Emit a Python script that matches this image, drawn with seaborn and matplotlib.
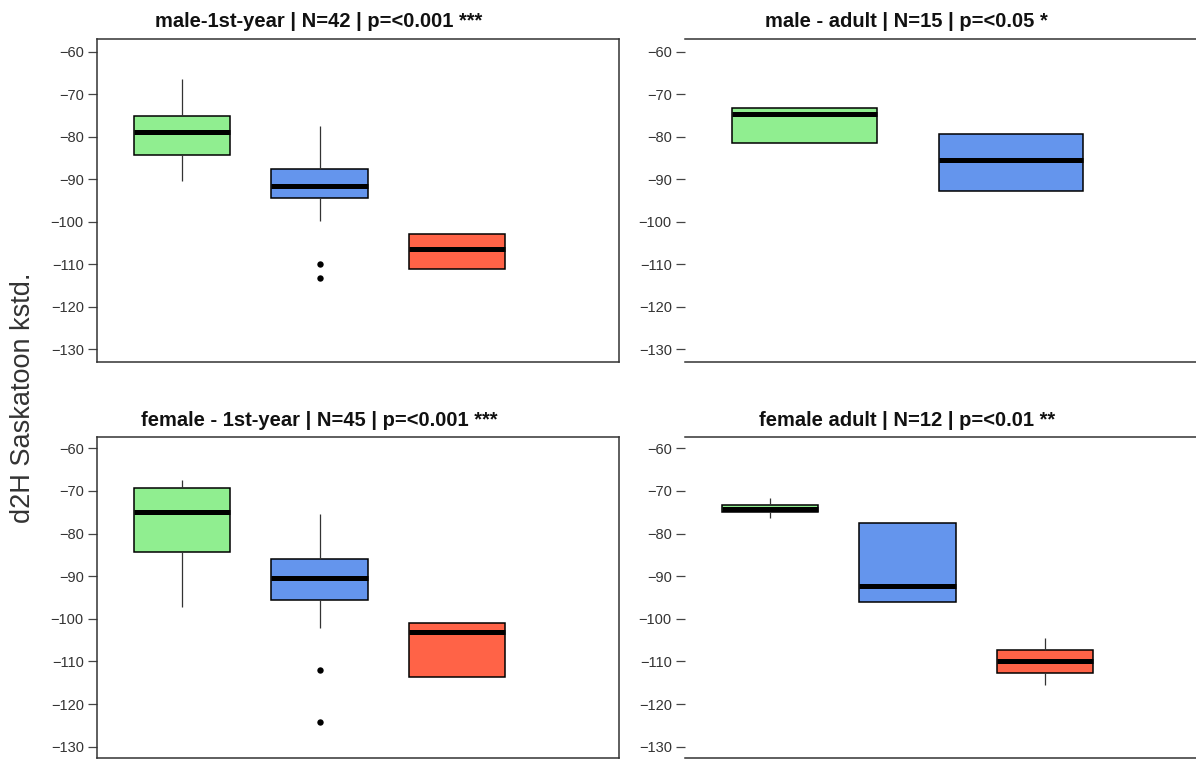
import pandas as pd
import seaborn as sns
import matplotlib.pyplot as plt

# groups (colour classes of the boxes)
groups = ["A", "B", "C"]
colors = {"A": "#90EE90", "B": "#6495ED", "C": "#FF6347"}

# five-number summaries: [low whisker, Q1, median, Q3, high whisker]
m1_A = [-90.3, -84.2, -78.8, -75.2, -66.4]
m1_B = [-99.8, -94.5, -91.7, -87.6, -77.4]
m1_C = [-111.1, -111.1, -106.4, -103.0, -103.0]
m1_out_B = [-110.0, -113.2]

ma_A = [-81.5, -81.5, -74.5, -73.3, -73.3]
ma_B = [-92.7, -92.7, -85.5, -79.4, -79.4]

f1_A = [-97.2, -84.3, -75.0, -69.4, -67.4]
f1_B = [-102.2, -95.6, -90.4, -86.0, -75.5]
f1_C = [-113.7, -113.7, -103.2, -101.0, -101.0]
f1_out_B = [-111.9, -124.1]

fa_A = [-76.4, -75.0, -74.3, -73.2, -71.7]
fa_B = [-96.1, -96.1, -92.2, -77.5, -77.5]
fa_C = [-115.6, -112.7, -109.8, -107.2, -104.5]

titles = ["male-1st-year | N=42 | p=<0.001 ***",
          "male - adult | N=15 | p=<0.05 *",
          "female - 1st-year | N=45 | p=<0.001 ***",
          "female adult | N=12 | p=<0.01 **"]
yticks = [-60, -70, -80, -90, -100, -110, -120, -130]

sns.set_theme(style="ticks")
plt.rcParams["font.family"] = ["Liberation Sans", "DejaVu Sans"]

fig = plt.figure(figsize=(11.96, 7.6), dpi=100)


def make_df(d):
    rows = [(g, v) for g, vals in d.items() for v in vals]
    return pd.DataFrame(rows, columns=["grp", "val"])


def panel(rect, boxes, outliers, xlim, ylim, title, full_frame):
    ax = fig.add_axes(rect)
    order = list(boxes.keys())
    df = make_df(boxes)
    sns.boxplot(data=df, x="grp", y="val", hue="grp", order=order, hue_order=order,
                palette=colors, saturation=1, width=0.7, whis=(0, 100),
                showcaps=False, showfliers=False, linecolor="black", linewidth=1.1,
                medianprops=dict(color="black", linewidth=3.6),
                whiskerprops=dict(color="#333333", linewidth=0.9),
                legend=False, ax=ax)
    if outliers:
        odf = make_df(outliers)
        sns.stripplot(data=odf, x="grp", y="val", order=order, jitter=False,
                      color="black", size=4.6, ax=ax)
    ax.set_xlim(*xlim)
    ax.set_ylim(*ylim)
    ax.set_xticks([])
    ax.set_yticks(yticks)
    ax.set_xlabel("")
    ax.set_ylabel("")
    ax.tick_params(axis="y", direction="out", length=6.5, width=0.9, color="#444444",
                   labelsize=10.5, labelcolor="#333333", pad=3, left=True)
    for s in ax.spines.values():
        s.set_color("#333333")
        s.set_linewidth(1.1)
        s.set_visible(True)
    if not full_frame:
        ax.spines["left"].set_visible(False)
    ax.text(0.425, 1.0 + 17 / 323, title, transform=ax.transAxes, ha="center",
            va="center", fontsize=14.5, fontweight="bold", color="#111111")
    return ax


top = [0.5237, 0.425]
bot = [0.0026, 0.4224]
lx, rx, w = 0.0811, 0.5727, 0.4365

panel([lx, top[0], w, top[1]], {"A": m1_A, "B": m1_B, "C": m1_C}, {"B": m1_out_B},
      (-0.62, 3.18), (-133.06, -56.94), titles[0], True)
panel([rx, top[0], w, top[1]], {"A": ma_A, "B": ma_B}, None,
      (-0.58, 1.95), (-133.06, -56.94), titles[1], False)
panel([lx, bot[0], w, bot[1]], {"A": f1_A, "B": f1_B, "C": f1_C}, {"B": f1_out_B},
      (-0.62, 3.18), (-132.65, -57.35), titles[2], True)
panel([rx, bot[0], w, bot[1]], {"A": fa_A, "B": fa_B, "C": fa_C}, None,
      (-0.62, 3.18), (-132.65, -57.35), titles[3], False)

fig.text(0.019, 0.477, "d2H Saskatoon kstd.", rotation=90, ha="center", va="center",
         fontsize=19.5, color="#333333")

fig.savefig("out.png", dpi=100)
